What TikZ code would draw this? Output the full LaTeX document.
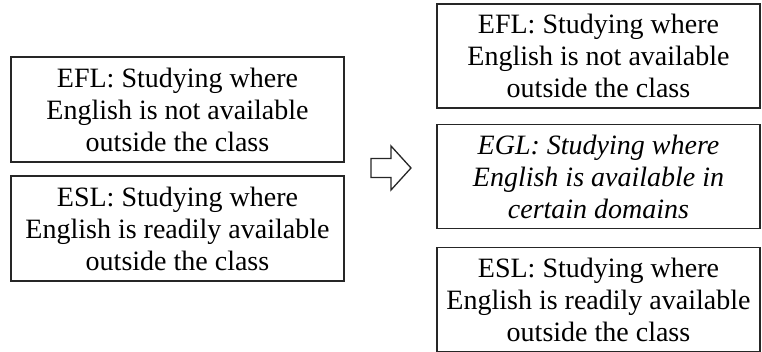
\documentclass[tikz,border=0pt]{standalone}
\usepackage{fontspec}
\setmainfont{Liberation Serif}
\begin{document}
\begin{tikzpicture}[x=1pt,y=-1pt,
  box/.style={draw=black!85, line width=1.3pt, rectangle, inner sep=0pt,
    align=center, font=\fontsize{28}{32}\selectfont},
  lbox/.style={box, minimum width=333pt, minimum height=105pt},
  rbox/.style={box, minimum width=323pt, minimum height=104pt},
  hollowarrow/.style={draw=black!85, line width=1.3pt, line join=miter}]
\useasboundingbox (0,0) rectangle (762,352);
\node[lbox] (efl) at (177.5,109.5) {EFL: Studying where\\English is not available\\outside the class};
\node[lbox] (esl) at (177.5,228.5) {ESL: Studying where\\English is readily available\\outside the class};
\node[rbox] (refl) at (598.5,56) {EFL: Studying where\\English is not available\\outside the class};
\node[rbox] (regl) at (598.5,176.5) {\itshape EGL: Studying where\\\itshape English is available in\\\itshape certain domains};
\node[rbox] (resl) at (598.5,299.5) {ESL: Studying where\\English is readily available\\outside the class};
\draw[hollowarrow] (371,158.5) -- (391,158.5) -- (391,146) -- (411,168) -- (391,190) -- (391,177.5) -- (371,177.5) -- cycle;
\end{tikzpicture}
\end{document}
